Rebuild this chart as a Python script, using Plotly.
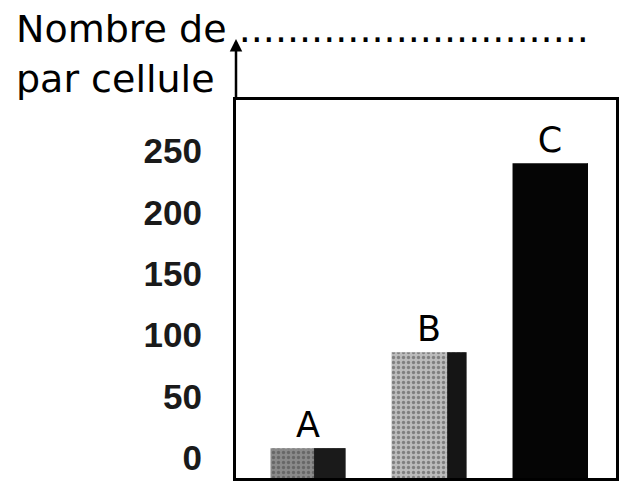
import plotly.graph_objects as go

categories = ["A", "B", "C"]
values = [8, 86, 240]
tick_vals = [0, 50, 100, 150, 200, 250]
tick_text = ["0", "50", "100", "150", "200", "250"]
y_min, y_max = -16.3, 291.5

PL, PR, PT, PB = 236, 616, 100, 478
pw, ph = PR - PL, PB - PT

bar_w = 0.62
dark_w = [0.26, 0.16, 0.0]

fig = go.Figure()
fig.add_trace(go.Bar(
    x=categories,
    y=[v - y_min for v in values],
    base=y_min,
    width=bar_w,
    marker=dict(color=["#8a8a8a", "#bcbcbc", "#050505"], line=dict(width=0),
                pattern=dict(shape=[".", ".", ""], fgcolor="#5a5a5a", size=5, solidity=0.35)),
    text=categories,
    textposition="outside",
    textfont=dict(family="DejaVu Sans", size=35, color="black"),
    cliponaxis=False,
    hoverinfo="skip",
))
# darker right-hand shading of the scanned bars
fig.add_trace(go.Bar(
    x=categories,
    y=[v - y_min for v in values],
    base=y_min,
    width=dark_w,
    offset=[bar_w / 2 - w for w in dark_w],
    marker=dict(color=["#1a1a1a", "#151515", "#050505"], line=dict(width=0)),
    hoverinfo="skip",
))

fig.update_layout(
    width=628, height=484,
    margin=dict(l=PL, r=628 - PR, t=PT, b=484 - PB),
    plot_bgcolor="white", paper_bgcolor="white",
    showlegend=False,
    barmode="overlay",
    xaxis=dict(range=[-0.595, 2.545], showticklabels=False, showgrid=False, automargin=False,
               zeroline=False, showline=True, linecolor="black", linewidth=3, mirror=True),
    yaxis=dict(range=[y_min, y_max], tickvals=tick_vals, ticktext=tick_text, automargin=False,
               tickfont=dict(family="Liberation Sans", size=35, color="#1a1a1a", weight="bold"),
               ticks="", ticklabelstandoff=24, showgrid=False, zeroline=False,
               showline=True, linecolor="black", linewidth=3, mirror=True),
    annotations=[
        dict(text="Nombre de .............................", xref="paper", yref="paper",
             x=(14 - PL) / pw, y=1 + (PT - 29) / ph, xanchor="left", yanchor="middle",
             showarrow=False, font=dict(family="DejaVu Sans", size=38, color="black")),
        dict(text="par cellule", xref="paper", yref="paper",
             x=(14 - PL) / pw, y=1 + (PT - 79) / ph, xanchor="left", yanchor="middle",
             showarrow=False, font=dict(family="DejaVu Sans", size=38, color="black")),
        dict(text="", xref="paper", yref="paper", x=0, y=1 + 61 / ph,
             ax=0, ay=61, showarrow=True, arrowhead=2, arrowsize=1, arrowwidth=2.5,
             arrowcolor="black"),
    ],
)

fig.write_html("out.html", config={"displayModeBar": False},
               post_script="document.body.style.margin='0';")
